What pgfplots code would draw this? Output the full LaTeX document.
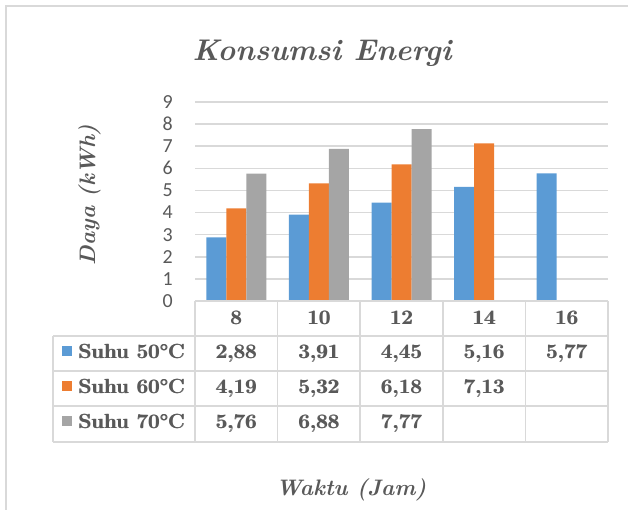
\documentclass[border=0pt]{standalone}
\usepackage{fontspec}
\newfontfamily\calib{Carlito}
\usepackage{pgfplots}
\pgfplotsset{compat=1.18}
\definecolor{sblue}{HTML}{5B9BD5}
\definecolor{sorange}{HTML}{ED7D31}
\definecolor{sgray}{HTML}{A5A5A5}
\definecolor{gridc}{HTML}{D9D9D9}
\definecolor{txt}{HTML}{595959}
\newcommand\fb[1]{\leavevmode\rlap{#1}\kern0.8bp#1}
\begin{document}
\begin{tikzpicture}[x=1bp,y=1bp]
\useasboundingbox (0,0) rectangle (628,510);
% outer frame
\draw[gridc, line width=1.5bp] (6,0) -- (6,504) -- (628,504);
\begin{axis}[
  at={(195bp,209bp)}, anchor=south west,
  width=413bp, height=199bp, scale only axis,
  ybar=0pt, bar width=20bp,
  xmin=-0.5, xmax=4.5, ymin=0, ymax=9,
  xtick=\empty, ytick={0,1,...,9},
  ymajorgrids, grid style={gridc, line width=1.5bp},
  axis line style={draw=none}, major tick length=0pt,
  /pgf/number format/assume math mode=true,
  yticklabel style={font=\calib\fontsize{20}{20}\selectfont, text=txt, anchor=east, inner sep=0pt, xshift=-22bp},
  clip=false,
]
\addplot[fill=sblue, draw=none] coordinates {(0,2.88) (1,3.91) (2,4.45) (3,5.16) (4,5.77)};
\addplot[fill=sorange, draw=none] coordinates {(0,4.19) (1,5.32) (2,6.18) (3,7.13)};
\addplot[fill=sgray, draw=none] coordinates {(0,5.76) (1,6.88) (2,7.77)};
\end{axis}
% data table grid
\begin{scope}[gridc, line width=1.5bp]
\draw (195,209) -- (608,209);
\draw (53,174) -- (608,174);
\draw (53,139) -- (608,139);
\draw (53,104) -- (608,104);
\draw (53,68) -- (608,68);
\draw (53,174) -- (53,68);
\foreach \xx in {195,277.6,360.2,442.8,525.4,608} \draw (\xx,209) -- (\xx,68);
\end{scope}
\begin{scope}[every node/.style={font=\bfseries\fontsize{20.5}{22}\selectfont, text=txt, inner sep=0pt, anchor=base}]
% header
\node at (236.3,185) {\fb{8}};
\node at (318.9,185) {\fb{10}};
\node at (401.5,185) {\fb{12}};
\node at (484.1,185) {\fb{14}};
\node at (566.7,185) {\fb{16}};
% row 1
\node at (236.3,151) {\fb{2,88}};
\node at (318.9,151) {\fb{3,91}};
\node at (401.5,151) {\fb{4,45}};
\node at (484.1,151) {\fb{5,16}};
\node at (566.7,151) {\fb{5,77}};
% row 2
\node at (236.3,116) {\fb{4,19}};
\node at (318.9,116) {\fb{5,32}};
\node at (401.5,116) {\fb{6,18}};
\node at (484.1,116) {\fb{7,13}};
% row 3
\node at (236.3,81) {\fb{5,76}};
\node at (318.9,81) {\fb{6,88}};
\node at (401.5,81) {\fb{7,77}};
% legend labels
\node[anchor=base west] at (78,151) {\fb{Suhu 50°C}};
\node[anchor=base west] at (78,116) {\fb{Suhu 60°C}};
\node[anchor=base west] at (78,81) {\fb{Suhu 70°C}};
\end{scope}
\fill[sblue] (62,154) rectangle (72,164);
\fill[sorange] (62,119) rectangle (72,129);
\fill[sgray] (62,84) rectangle (72,94);
% titles
\node[font=\bfseries\itshape\fontsize{30}{32}\selectfont, text=txt, inner sep=0pt, anchor=base] at (322,449) {Konsumsi Energi};
\node[font=\bfseries\itshape\fontsize{22.5}{24}\selectfont, text=txt, inner sep=0pt, anchor=base, rotate=90] at (95,315) {Daya (kWh)};
\node[font=\bfseries\itshape\fontsize{22.5}{24}\selectfont, text=txt, inner sep=0pt, anchor=base] at (351,14) {Waktu (Jam)};
\end{tikzpicture}
\end{document}
